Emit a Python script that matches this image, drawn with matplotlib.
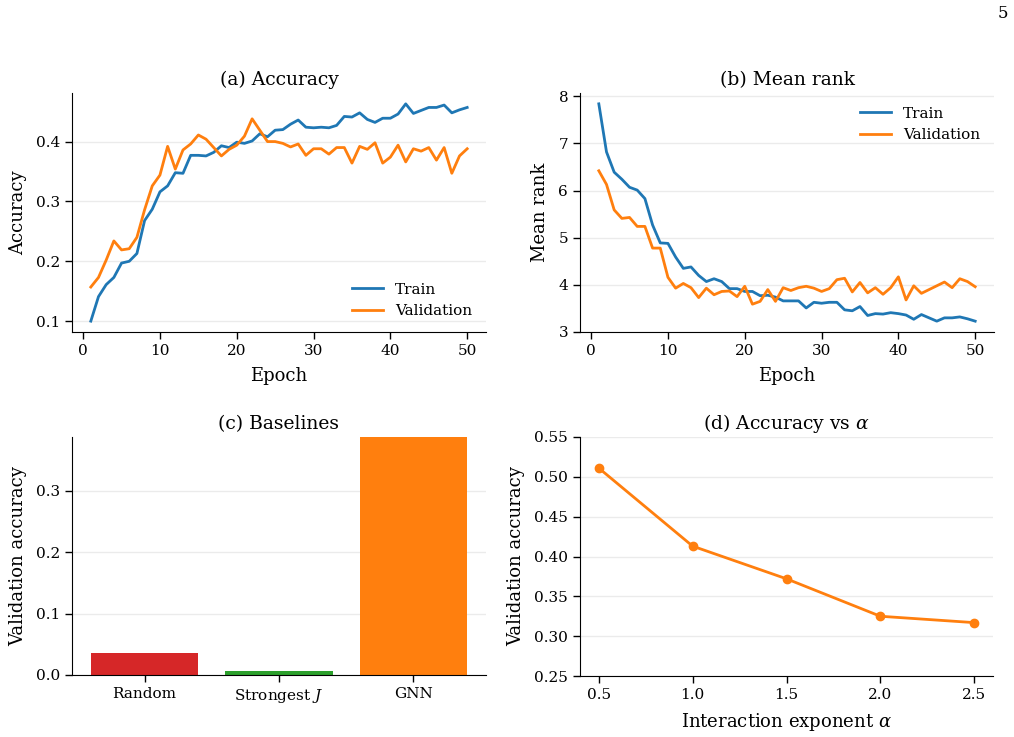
import matplotlib
matplotlib.use("Agg")
import matplotlib.pyplot as plt
import numpy as np

plt.rcParams['font.family'] = ['DejaVu Serif']
plt.rcParams['mathtext.fontset'] = 'dejavuserif'

epochs = list(range(1, 51))
train_acc = [0.100, 0.141, 0.161, 0.173, 0.197, 0.200, 0.213, 0.268, 0.287, 0.316,
             0.326, 0.348, 0.347, 0.377, 0.377, 0.376, 0.382, 0.393, 0.390, 0.399,
             0.397, 0.401, 0.413, 0.408, 0.419, 0.420, 0.429, 0.436, 0.424, 0.423,
             0.424, 0.423, 0.427, 0.442, 0.441, 0.448, 0.437, 0.432, 0.439, 0.439,
             0.446, 0.463, 0.447, 0.452, 0.457, 0.457, 0.461, 0.448, 0.453, 0.457]
val_acc = [0.157, 0.173, 0.202, 0.234, 0.219, 0.221, 0.240, 0.286, 0.326, 0.344,
           0.392, 0.354, 0.386, 0.396, 0.411, 0.404, 0.390, 0.376, 0.387, 0.394,
           0.409, 0.438, 0.419, 0.400, 0.400, 0.397, 0.391, 0.396, 0.377, 0.388,
           0.388, 0.379, 0.390, 0.390, 0.364, 0.392, 0.387, 0.398, 0.364, 0.374,
           0.394, 0.366, 0.388, 0.384, 0.390, 0.369, 0.390, 0.347, 0.376, 0.388]
train_rank = [7.84, 6.82, 6.39, 6.24, 6.07, 6.01, 5.83, 5.27, 4.89, 4.88,
              4.59, 4.35, 4.38, 4.20, 4.07, 4.13, 4.07, 3.92, 3.92, 3.86,
              3.86, 3.77, 3.78, 3.74, 3.66, 3.66, 3.66, 3.51, 3.63, 3.61,
              3.63, 3.63, 3.47, 3.45, 3.54, 3.35, 3.39, 3.38, 3.41, 3.39,
              3.36, 3.27, 3.37, 3.30, 3.23, 3.30, 3.30, 3.32, 3.28, 3.23]
val_rank = [6.42, 6.13, 5.59, 5.41, 5.43, 5.24, 5.24, 4.78, 4.78, 4.16,
            3.93, 4.03, 3.94, 3.73, 3.93, 3.79, 3.86, 3.87, 3.75, 3.97,
            3.59, 3.65, 3.90, 3.65, 3.94, 3.88, 3.94, 3.97, 3.93, 3.86,
            3.92, 4.11, 4.14, 3.85, 4.05, 3.83, 3.94, 3.80, 3.94, 4.17,
            3.68, 3.98, 3.82, 3.90, 3.98, 4.06, 3.94, 4.13, 4.07, 3.96]
baseline_names = ["Random", "Strongest $J$", "GNN"]
baseline_vals = [0.036, 0.007, 0.388]
baseline_colors = ["#d62728", "#2ca02c", "#ff7f0e"]
alphas = [0.5, 1.0, 1.5, 2.0, 2.5]
alpha_acc = [0.511, 0.413, 0.372, 0.325, 0.317]

BLUE = "#1f77b4"
ORANGE = "#ff7f0e"

TICK_FS = 11
LABEL_FS = 13
TITLE_FS = 13.5
LEG_FS = 11
LPAD = 6.5

W, H = 1014, 737
fig = plt.figure(figsize=(W / 100, H / 100), dpi=100)

def add_ax(l, t, r, b):
    return fig.add_axes([l / W, 1 - b / H, (r - l) / W, (b - t) / H])

def style(ax):
    ax.spines['top'].set_visible(False)
    ax.spines['right'].set_visible(False)
    ax.yaxis.grid(True, color='#ebebeb', linewidth=1.0)
    ax.set_axisbelow(True)
    ax.tick_params(labelsize=TICK_FS, length=5, width=1)

ax1 = add_ax(72, 93, 486, 332)
ax2 = add_ax(580, 93, 994, 332)
ax3 = add_ax(72, 437, 486, 675)
ax4 = add_ax(580, 437, 993, 676)

# (a)
ax1.plot(epochs, train_acc, color=BLUE, lw=2, label="Train")
ax1.plot(epochs, val_acc, color=ORANGE, lw=2, label="Validation")
ax1.set_title("(a) Accuracy", fontsize=TITLE_FS)
ax1.set_xlabel("Epoch", fontsize=LABEL_FS, labelpad=LPAD)
ax1.set_ylabel("Accuracy", fontsize=LABEL_FS, labelpad=LPAD)
ax1.set_yticks([0.1, 0.2, 0.3, 0.4])
ax1.set_xticks([0, 10, 20, 30, 40, 50])
ax1.legend(loc='lower right', frameon=False, fontsize=LEG_FS)
style(ax1)

# (b)
ax2.plot(epochs, train_rank, color=BLUE, lw=2, label="Train")
ax2.plot(epochs, val_rank, color=ORANGE, lw=2, label="Validation")
ax2.set_title("(b) Mean rank", fontsize=TITLE_FS)
ax2.set_xlabel("Epoch", fontsize=LABEL_FS, labelpad=LPAD)
ax2.set_ylabel("Mean rank", fontsize=LABEL_FS, labelpad=LPAD)
ax2.set_ylim(3, 8.07)
ax2.set_xticks([0, 10, 20, 30, 40, 50])
ax2.legend(loc='upper right', frameon=False, fontsize=LEG_FS)
style(ax2)

# (c)
ax3.bar(baseline_names, baseline_vals, color=baseline_colors, width=0.8)
ax3.set_title("(c) Baselines", fontsize=TITLE_FS)
ax3.set_ylabel("Validation accuracy", fontsize=LABEL_FS, labelpad=LPAD)
ax3.set_ylim(0, max(baseline_vals))
ax3.set_yticks([0.0, 0.1, 0.2, 0.3])
style(ax3)

# (d)
ax4.plot(alphas, alpha_acc, color=ORANGE, lw=2, marker='o', markersize=6)
ax4.set_title(r"(d) Accuracy vs $\alpha$", fontsize=TITLE_FS)
ax4.set_xlabel(r"Interaction exponent $\alpha$", fontsize=LABEL_FS, labelpad=LPAD)
ax4.set_ylabel("Validation accuracy", fontsize=LABEL_FS, labelpad=LPAD)
ax4.set_ylim(0.25, 0.55)
ax4.set_yticks([0.25, 0.30, 0.35, 0.40, 0.45, 0.50, 0.55])
ax4.set_xticks(alphas)
style(ax4)

fig.text(1003 / W, 1 - 14 / H, "5", fontsize=12, ha='center', va='center')

fig.savefig("out.png", dpi=100)
